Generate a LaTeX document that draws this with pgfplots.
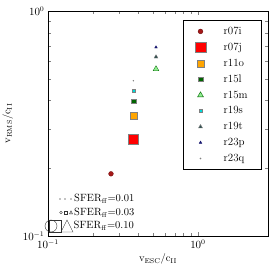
\documentclass[border=0pt]{standalone}
\usepackage{pgfplots}
\pgfplotsset{compat=1.18}
\definecolor{c07i}{HTML}{A51818}
\definecolor{c07j}{HTML}{FF0000}
\definecolor{c11o}{HTML}{FFA500}
\definecolor{c15l}{HTML}{006400}
\definecolor{c15m}{HTML}{90EE90}
\definecolor{c19s}{HTML}{00DADA}
\definecolor{c19t}{HTML}{2F4F4F}
\definecolor{c23p}{HTML}{191970}
\definecolor{c23q}{HTML}{808080}
\begin{document}
\begin{tikzpicture}[font=\fontsize{10.5}{12.5}\selectfont]
\useasboundingbox (-48pt,-38pt) rectangle (226pt,236pt);
\begin{axis}[
  scale only axis, width=220pt, height=225pt,
  xmode=log, ymode=log,
  xmin=0.1, xmax=2.93, ymin=0.1, ymax=1,
  xlabel={v$_\mathrm{ESC}$/c$_\mathrm{II}$},
  ylabel={v$_\mathrm{RMS}$/c$_\mathrm{II}$},
  xlabel style={yshift=1pt},
  ylabel style={yshift=3pt},
  legend cell align=left,
  legend style={font=\fontsize{11}{13}\selectfont, at={(0.973,0.962)}, anchor=north east, row sep=3pt, draw=black, line width=0.8pt, inner xsep=12pt, inner ysep=5pt, /tikz/every odd column/.append style={column sep=16pt}},
  legend image post style={line width=0.4pt},
]
\addplot[only marks, mark=*, mark size=2.4pt, fill=c07i, draw=c07i!70!black, line width=0.3pt] coordinates {(0.263,0.189)};
\addlegendentry{r07i}
\addplot[only marks, mark=square*, mark size=5.2pt, fill=c07j, draw=black!50, line width=0.3pt] coordinates {(0.371,0.270)};
\addlegendentry{r07j}
\addplot[only marks, mark=square*, mark size=3.5pt, fill=c11o, draw=black!50, line width=0.3pt] coordinates {(0.371,0.344)};
\addlegendentry{r11o}
\addplot[only marks, mark=square*, mark size=2.4pt, fill=c15l, draw=black!50, line width=0.3pt] coordinates {(0.371,0.398)};
\addlegendentry{r15l}
\addplot[only marks, mark=triangle*, mark size=3.4pt, fill=c15m, draw=c15l, line width=0.3pt] coordinates {(0.525,0.552)};
\addlegendentry{r15m}
\addplot[only marks, mark=square*, mark size=1.6pt, fill=c19s, draw=black!50, line width=0.3pt] coordinates {(0.371,0.444)};
\addlegendentry{r19s}
\addplot[only marks, mark=triangle*, mark size=2.3pt, fill=c19t, draw=black!50, line width=0.3pt] coordinates {(0.525,0.625)};
\addlegendentry{r19t}
\addplot[only marks, mark=triangle*, mark size=1.6pt, fill=c23p, draw=c23p, line width=0.3pt] coordinates {(0.525,0.690)};
\addlegendentry{r23p}
\addplot[only marks, mark=*, mark size=0.6pt, fill=c23q, draw=c23q, line width=0.2pt] coordinates {(0.371,0.490)};
\addlegendentry{r23q}
\end{axis}
% SFER_ff size key (axis box lower-left is at the origin)
\fill[black] (12pt,37pt) circle (0.55pt);
\fill[black] (17pt,37pt) circle (0.55pt);
\fill[black] (23pt,37pt) circle (0.55pt);
\node[anchor=west, inner sep=0pt] at (26pt,37pt) {SFER$_\mathrm{ff}$=0.01};
\draw[black!80, line width=0.4pt] (13pt,23.5pt) circle (1.4pt);
\draw[black!80, line width=0.4pt] (16.6pt,22.1pt) rectangle (19.4pt,24.9pt);
\draw[black!80, line width=0.4pt] (21.5pt,22.2pt) -- (24.5pt,22.2pt) -- (23pt,25.1pt) -- cycle;
\node[anchor=west, inner sep=0pt] at (26pt,23.5pt) {SFER$_\mathrm{ff}$=0.03};
\draw[black!80, line width=0.4pt] (3pt,10pt) circle (6pt);
\draw[black!80, line width=0.4pt] (1pt,4pt) rectangle (13pt,16pt);
\draw[black!80, line width=0.4pt] (13pt,4pt) -- (25pt,4pt) -- (19pt,16pt) -- cycle;
\node[anchor=west, inner sep=0pt] at (25.5pt,10pt) {SFER$_\mathrm{ff}$=0.10};
\end{tikzpicture}
\end{document}
